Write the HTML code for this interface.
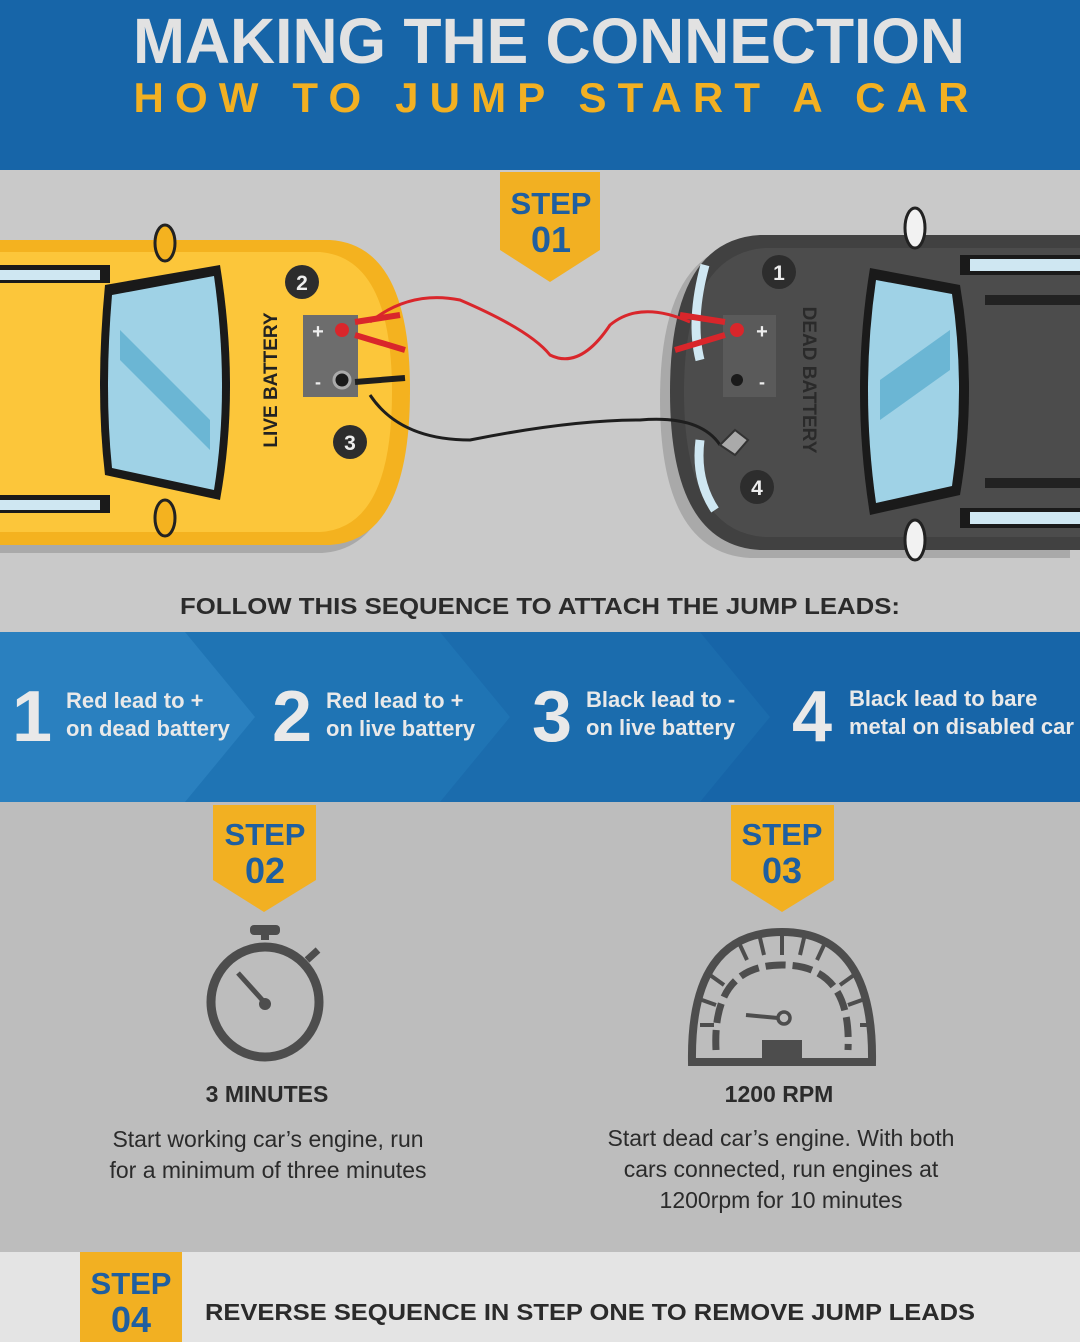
<!DOCTYPE html>
<html><head><meta charset="utf-8"><style>
html,body{margin:0;padding:0;width:1080px;height:1342px;overflow:hidden;background:#c4c4c4}
svg{display:block}
text{font-family:"Liberation Sans",sans-serif}
</style></head><body>
<svg width="1080" height="1342" viewBox="0 0 1080 1342" xmlns="http://www.w3.org/2000/svg">
<rect x="0" y="0" width="1080" height="170" fill="#1765a8"/>
<text x="549" y="63" text-anchor="middle" font-size="64" font-weight="bold" fill="#e2e2e2" textLength="832" lengthAdjust="spacingAndGlyphs">MAKING THE CONNECTION</text>
<text x="551" y="112" text-anchor="middle" font-size="42" font-weight="bold" fill="#f2b022" textLength="835" lengthAdjust="spacing">HOW TO JUMP START A CAR</text>
<rect x="0" y="170" width="1080" height="462" fill="#c9c9c9"/>
<!-- yellow car -->
<path d="M0 240 L330 240 Q410 245 410 390 Q410 540 330 545 L0 545 Z" fill="#a9a9a9" transform="translate(-8,8)"/>
<path d="M0 240 L330 240 Q410 245 410 390 Q410 540 330 545 L0 545 Z" fill="#f4b21f"/>
<path d="M0 252 L320 252 Q392 258 392 392 Q392 528 320 532 L0 532 Z" fill="#fcc63a"/>
<path d="M105 285 L220 265 Q240 390 220 500 L105 475 Q95 390 105 285 Z" fill="#1a1a1a"/>
<path d="M112 295 L214 276 Q230 390 214 490 L112 468 Q104 390 112 295 Z" fill="#9fd2e6"/>
<path d="M120 330 L210 420 L210 450 L120 360 Z" fill="#6bb6d4"/>
<rect x="0" y="265" width="110" height="18" fill="#1a1a1a"/><rect x="0" y="270" width="100" height="10" fill="#cfe7f2"/>
<rect x="0" y="495" width="110" height="18" fill="#1a1a1a"/><rect x="0" y="500" width="100" height="10" fill="#cfe7f2"/>
<ellipse cx="165" cy="243" rx="10" ry="18" fill="#f4b21f" stroke="#222" stroke-width="3"/>
<ellipse cx="165" cy="518" rx="10" ry="18" fill="#f4b21f" stroke="#222" stroke-width="3"/>
<text transform="translate(277,380) rotate(-90)" text-anchor="middle" font-size="19" font-weight="bold" fill="#222">LIVE BATTERY</text>
<rect x="303" y="315" width="55" height="82" fill="#6d6d6d"/>
<text x="318" y="338" text-anchor="middle" font-size="20" font-weight="bold" fill="#eee">+</text>
<text x="318" y="388" text-anchor="middle" font-size="18" font-weight="bold" fill="#eee">-</text>
<circle cx="302" cy="282" r="17" fill="#2d2d2d"/><text x="302" y="290" text-anchor="middle" font-size="21" font-weight="bold" fill="#eee">2</text>
<circle cx="350" cy="442" r="17" fill="#2d2d2d"/><text x="350" y="450" text-anchor="middle" font-size="21" font-weight="bold" fill="#eee">3</text>
<!-- gray car -->
<path d="M1080 235 L760 235 Q670 240 670 392 Q670 545 760 550 L1080 550 Z" fill="#a9a9a9" transform="translate(-10,8)"/>
<path d="M1080 235 L760 235 Q670 240 670 392 Q670 545 760 550 L1080 550 Z" fill="#414141"/>
<path d="M1080 248 L765 248 Q684 254 684 392 Q684 532 765 537 L1080 537 Z" fill="#4c4c4c"/>
<path d="M870 268 L960 285 Q978 390 960 495 L870 515 Q850 390 870 268 Z" fill="#1a1a1a"/>
<path d="M876 280 L952 294 Q966 390 952 486 L876 503 Q860 390 876 280 Z" fill="#9fd2e6"/>
<path d="M880 380 L950 330 L950 370 L880 420 Z" fill="#6bb6d4"/>
<rect x="960" y="255" width="120" height="20" fill="#1a1a1a"/><rect x="970" y="259" width="110" height="12" fill="#cfe7f2"/>
<rect x="960" y="508" width="120" height="20" fill="#1a1a1a"/><rect x="970" y="512" width="110" height="12" fill="#cfe7f2"/>
<rect x="985" y="295" width="95" height="10" fill="#222"/><rect x="985" y="478" width="95" height="10" fill="#222"/>
<ellipse cx="915" cy="228" rx="10" ry="20" fill="#f2f2f2" stroke="#222" stroke-width="3"/>
<ellipse cx="915" cy="540" rx="10" ry="20" fill="#f2f2f2" stroke="#222" stroke-width="3"/>
<path d="M705 265 Q690 320 700 360" stroke="#cfe7f2" stroke-width="9" fill="none"/>
<path d="M700 440 Q695 480 715 510" stroke="#cfe7f2" stroke-width="9" fill="none"/>
<text transform="translate(803,380) rotate(90)" text-anchor="middle" font-size="19" font-weight="bold" fill="#2a2a2a">DEAD BATTERY</text>
<rect x="723" y="315" width="53" height="82" fill="#5a5a5a"/>
<text x="762" y="338" text-anchor="middle" font-size="20" font-weight="bold" fill="#eee">+</text>
<text x="762" y="388" text-anchor="middle" font-size="18" font-weight="bold" fill="#eee">-</text>
<circle cx="737" cy="380" r="6" fill="#1a1a1a"/>
<circle cx="779" cy="272" r="17" fill="#2d2d2d"/><text x="779" y="280" text-anchor="middle" font-size="21" font-weight="bold" fill="#eee">1</text>
<circle cx="757" cy="487" r="17" fill="#2d2d2d"/><text x="757" y="495" text-anchor="middle" font-size="21" font-weight="bold" fill="#eee">4</text>
<!-- cables -->
<path d="M370 322 Q410 290 460 300 Q530 330 550 355 Q580 370 610 325 Q640 300 690 322" stroke="#d9262b" stroke-width="3" fill="none"/>
<path d="M370 395 Q400 440 470 440 Q570 420 640 420 Q700 415 720 445" stroke="#1e1e1e" stroke-width="3" fill="none"/>
<path d="M355 322 L400 315 M355 335 L405 350" stroke="#d9262b" stroke-width="6"/>
<path d="M725 322 L680 315 M725 335 L675 350" stroke="#d9262b" stroke-width="6"/>
<circle cx="342" cy="330" r="7" fill="#d9262b"/><circle cx="737" cy="330" r="7" fill="#d9262b"/>
<circle cx="342" cy="380" r="8" fill="#1a1a1a" stroke="#aaa" stroke-width="3"/>
<path d="M355 382 L405 378" stroke="#1e1e1e" stroke-width="6"/>
<path d="M720 445 L735 430 L748 440 L735 455 Z" fill="#aaa" stroke="#333" stroke-width="2"/>
<text x="540" y="614" text-anchor="middle" font-size="23" font-weight="bold" fill="#2b2b2b" textLength="720" lengthAdjust="spacingAndGlyphs">FOLLOW THIS SEQUENCE TO ATTACH THE JUMP LEADS:</text>
<!-- blue band -->
<rect x="0" y="632" width="1080" height="170" fill="#1765a8"/>
<path d="M0 632 H700 L770 717 L700 802 H0 Z" fill="#1b6cad"/>
<path d="M0 632 H440 L510 717 L440 802 H0 Z" fill="#1f74b4"/>
<path d="M0 632 H185 L255 717 L185 802 H0 Z" fill="#2a80bf"/>
<g fill="#e9e9e9" font-weight="bold">
<text x="12" y="741" font-size="72">1</text>
<text x="272" y="741" font-size="72">2</text>
<text x="532" y="741" font-size="72">3</text>
<text x="792" y="741" font-size="72">4</text>
</g>
<g fill="#e9e9e9" font-size="22" font-weight="bold">
<text x="66" y="708">Red lead to +</text><text x="66" y="736">on dead battery</text>
<text x="326" y="708">Red lead to +</text><text x="326" y="736">on live battery</text>
<text x="586" y="707">Black lead to -</text><text x="586" y="735">on live battery</text>
<text x="849" y="706">Black lead to bare</text><text x="849" y="734">metal on disabled car</text>
</g>
<rect x="0" y="802" width="1080" height="450" fill="#bdbdbd"/>
<rect x="0" y="1252" width="1080" height="90" fill="#e4e4e4"/>
<!-- step badges -->
<g fill="#f2b022">
<path d="M500 172 H600 V250 L550 282 L500 250 Z"/>
<path d="M213 805 H316 V880 L264 912 L213 880 Z"/>
<path d="M731 805 H834 V880 L782 912 L731 880 Z"/>
<path d="M80 1252 H182 V1342 H80 Z"/>
</g>
<g font-weight="bold" fill="#1f5fa0" text-anchor="middle">
<text x="551" y="214" font-size="31">STEP</text><text x="551" y="252" font-size="36">01</text>
<text x="265" y="845" font-size="31">STEP</text><text x="265" y="883" font-size="36">02</text>
<text x="782" y="845" font-size="31">STEP</text><text x="782" y="883" font-size="36">03</text>
<text x="131" y="1294" font-size="31">STEP</text><text x="131" y="1332" font-size="36">04</text>
</g>
<!-- stopwatch -->
<g fill="none" stroke="#4d4d4d">
<ellipse cx="265" cy="1002" rx="54" ry="55" stroke-width="9"/>
<path d="M265 940 V932" stroke-width="8"/>
<path d="M307 960 L318 950" stroke-width="7"/>
<path d="M238 973 L265 1003" stroke-width="5"/>
</g>
<rect x="250" y="925" width="30" height="10" rx="4" fill="#4d4d4d"/>
<circle cx="265" cy="1004" r="6" fill="#4d4d4d"/>
<!-- speedometer -->
<path d="M692 1062 Q690 932 782 932 Q874 932 872 1062 Z" fill="none" stroke="#4d4d4d" stroke-width="8"/>
<path d="M716 1050 Q712 965 782 965 Q852 965 848 1050" fill="none" stroke="#4d4d4d" stroke-width="7" stroke-dasharray="20 7"/>
<path d="M700 1025 H714 M860 1025 H874 M782 936 V955 M740 945 L747 960 M824 945 L817 960 M710 975 L724 985 M854 975 L840 985 M702 1000 L716 1005 M862 1000 L848 1005 M760 938 L764 955 M804 938 L800 955" stroke="#4d4d4d" stroke-width="4"/>
<rect x="762" y="1040" width="40" height="22" fill="#4d4d4d"/>
<path d="M746 1015 L778 1018" stroke="#4d4d4d" stroke-width="4"/>
<circle cx="784" cy="1018" r="6" fill="none" stroke="#4d4d4d" stroke-width="3.5"/>
<g text-anchor="middle" fill="#2b2b2b">
<text x="267" y="1102" font-size="23" font-weight="bold">3 MINUTES</text>
<text x="268" y="1147" font-size="23">Start working car’s engine, run</text>
<text x="268" y="1178" font-size="23">for a minimum of three minutes</text>
<text x="779" y="1102" font-size="23" font-weight="bold">1200 RPM</text>
<text x="781" y="1146" font-size="23">Start dead car’s engine. With both</text>
<text x="781" y="1177" font-size="23">cars connected, run engines at</text>
<text x="781" y="1208" font-size="23">1200rpm for 10 minutes</text>
</g>
<text x="205" y="1320" font-size="23" font-weight="bold" fill="#2b2b2b" textLength="770" lengthAdjust="spacingAndGlyphs">REVERSE SEQUENCE IN STEP ONE TO REMOVE JUMP LEADS</text>
</svg>
</body></html>
